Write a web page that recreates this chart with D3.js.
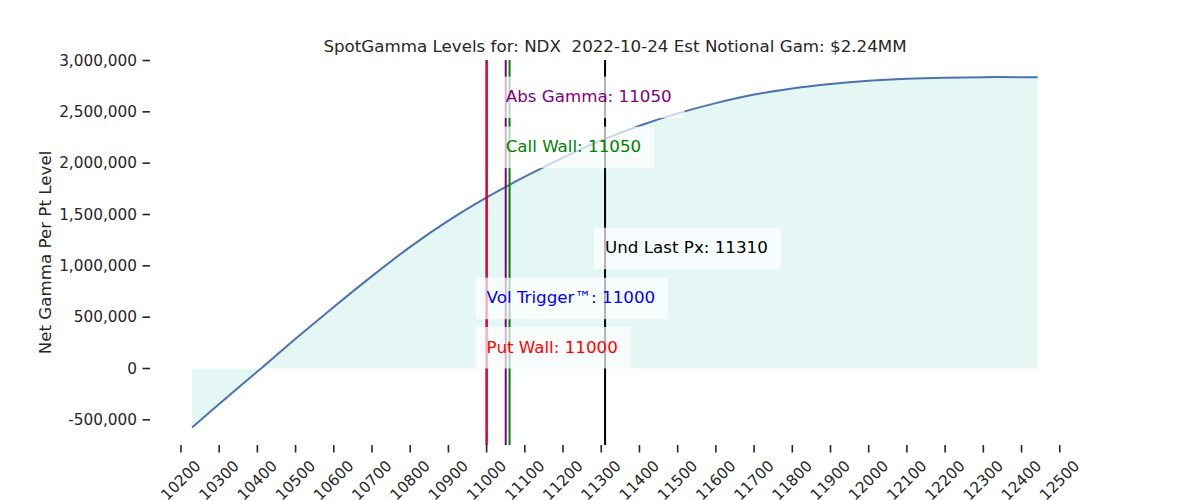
<!DOCTYPE html>
<html>
<head>
<meta charset="utf-8">
<script src="https://cdn.jsdelivr.net/npm/d3@7"></script>
<style>
  body { margin: 0; background: #fff; }
  text { font-family: "DejaVu Sans", sans-serif; fill: #262626; }
</style>
</head>
<body>
<div id="chart"></div>
<script>
// chart values
var strikes = [10229, 10300, 10400, 10500, 10600, 10700, 10800, 10900, 11000, 11100,
               11200, 11300, 11400, 11500, 11600, 11700, 11800, 11900, 12000, 12100,
               12200, 12300, 12400, 12442];
var netGamma = [-575000, -345000, -30000, 290000, 600000, 900000, 1185000, 1440000, 1667000, 1868000,
                2055000, 2222000, 2365000, 2485000, 2585000, 2668000, 2728000, 2772000, 2803000, 2822000,
                2833000, 2838000, 2838000, 2836000];
var xTicks = d3.range(10200, 12501, 100);
var yTicks = [-500000, 0, 500000, 1000000, 1500000, 2000000, 2500000, 3000000];

var levelNames = ["Vol Trigger™", "Put Wall", "Abs Gamma", "Call Wall", "Und Last Px"];
var levelValues = [11000, 11000, 11050, 11050, 11310];
var levelLines = [11000, 11000, 11050, 11060, 11310];

var title = "SpotGamma Levels for: NDX  2022-10-24 Est Notional Gam: $2.24MM";

// layout (plot box edges)
var W = 1200, H = 500;
var pLeft = 150, pRight = 1080, pTop = 60, pBottom = 445;
var levelColors = { "Vol Trigger™": "#0000ff", "Put Wall": "#ff0000", "Abs Gamma": "#800080",
                    "Call Wall": "#008000", "Und Last Px": "#000000" };
// bottom edge of each label box, in data units
var labelBase = { "Put Wall": 0, "Vol Trigger™": 480000, "Und Last Px": 967000,
                  "Call Wall": 1952000, "Abs Gamma": 2439000 };

var fmt = d3.formatLocale({ decimal: ".", thousands: ",", grouping: [3], currency: ["$", ""], minus: "-" }).format(",");

var svg = d3.select("#chart").append("svg")
  .attr("width", W).attr("height", H);

var x = d3.scaleLinear().domain([10119, 12553]).range([pLeft, pRight]);
var y = d3.scaleLinear().domain([-745000, 3005000]).range([pBottom, pTop]);

var pts = strikes.map(function(s, i) { return [s, netGamma[i]]; });

// fill between zero and the curve
svg.append("path")
  .datum(pts)
  .attr("fill", "#e4f7f4")
  .attr("d", d3.area()
    .x(function(d) { return x(d[0]); })
    .y0(y(0))
    .y1(function(d) { return y(d[1]); })
    .curve(d3.curveCatmullRom));

svg.append("path")
  .datum(pts)
  .attr("fill", "none")
  .attr("stroke", "#4c72b0")
  .attr("stroke-width", 2)
  .attr("d", d3.line()
    .x(function(d) { return x(d[0]); })
    .y(function(d) { return y(d[1]); })
    .curve(d3.curveCatmullRom));

// level lines
levelNames.forEach(function(n, i) {
  svg.append("line")
    .attr("x1", x(levelLines[i])).attr("x2", x(levelLines[i]))
    .attr("y1", pTop).attr("y2", pBottom)
    .attr("stroke", levelColors[n])
    .attr("stroke-width", 2);
});

// labels with translucent boxes
levelNames.forEach(function(n, i) {
  var g = svg.append("g");
  var bx = x(levelValues[i]);
  var by = y(labelBase[n]);
  var box = g.append("rect").attr("fill", "#fff").attr("fill-opacity", 0.7);
  var t = g.append("text")
    .attr("x", bx).attr("y", by - 16)
    .style("font-size", "16.7px")
    .style("fill", levelColors[n])
    .text(n + ": " + levelValues[i]);
  var w = t.node().getComputedTextLength();
  box.attr("x", bx - 11).attr("y", by - 41.5)
    .attr("width", w + 24).attr("height", 41.5);
});

// x axis ticks
var xa = svg.append("g");
xTicks.forEach(function(v) {
  xa.append("line")
    .attr("x1", x(v)).attr("x2", x(v))
    .attr("y1", pBottom).attr("y2", pBottom + 7.5)
    .attr("stroke", "#262626").attr("stroke-width", 1.6);
  var t = xa.append("text")
    .style("font-size", "15.3px")
    .attr("text-anchor", "middle")
    .attr("dominant-baseline", "central")
    .text(v);
  var w = t.node().getComputedTextLength();
  var cy = pBottom + 12 + (w + 17.8) * 0.3536;
  t.attr("transform", "translate(" + x(v) + "," + cy + ") rotate(-45)");
});

// y axis ticks
var ya = svg.append("g");
yTicks.forEach(function(v) {
  ya.append("line")
    .attr("x1", pLeft - 7.5).attr("x2", pLeft)
    .attr("y1", y(v)).attr("y2", y(v))
    .attr("stroke", "#262626").attr("stroke-width", 1.6);
  ya.append("text")
    .attr("x", pLeft - 13).attr("y", y(v))
    .attr("text-anchor", "end")
    .attr("dominant-baseline", "central")
    .style("font-size", "15.3px")
    .text(fmt(v));
});

svg.append("text")
  .attr("transform", "translate(51," + ((pTop + pBottom) / 2) + ") rotate(-90)")
  .attr("text-anchor", "middle")
  .style("font-size", "16.7px")
  .text("Net Gamma Per Pt Level");

svg.append("text")
  .attr("x", (pLeft + pRight) / 2).attr("y", 52)
  .attr("text-anchor", "middle")
  .style("font-size", "16.7px")
  .style("white-space", "pre")
  .text(title);
</script>
</body>
</html>
